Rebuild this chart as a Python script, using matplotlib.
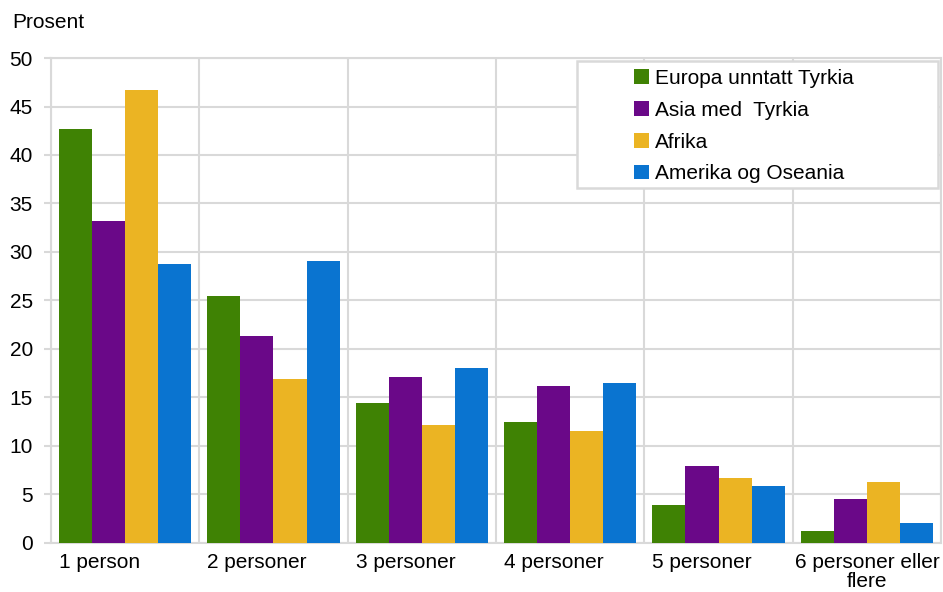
import numpy as np
import matplotlib.pyplot as plt
from matplotlib.patches import Rectangle

plt.rcParams['font.family'] = ['Liberation Sans', 'DejaVu Sans']

# Data
categories = ["1 person", "2 personer", "3 personer", "4 personer",
              "5 personer", "6 personer eller\nflere"]
series_names = ["Europa unntatt Tyrkia", "Asia med  Tyrkia", "Afrika",
                "Amerika og Oseania"]
europa = [42.7, 25.5, 14.4, 12.5, 3.9, 1.2]
asia = [33.2, 21.3, 17.1, 16.2, 7.9, 4.5]
afrika = [46.7, 16.9, 12.2, 11.5, 6.7, 6.3]
amerika = [28.8, 29.1, 18.0, 16.5, 5.9, 2.0]
colors = ["#3f8204", "#6a0888", "#ebb423", "#0a74d0"]

grid_col = "#d9d9d9"
fs = 15

fig = plt.figure(figsize=(9.43, 5.92), dpi=100)
ax = fig.add_axes([0.054, 0.083, 0.944, 0.819])

x = np.arange(len(categories))
w = 0.223
for i, (vals, name) in enumerate(zip([europa, asia, afrika, amerika], series_names)):
    ax.bar(x + (i - 1.5) * w, vals, width=w, color=colors[i], label=name, zorder=3)

ax.set_xlim(-0.5, len(categories) - 0.5)
ax.set_ylim(0, 50)
ax.set_yticks(np.arange(0, 51, 5))
ax.set_xticks([])
ax.set_xticks(np.arange(-0.5, len(categories)), minor=True)
ax.tick_params(axis='x', which='minor', length=0, labelbottom=False)
ax.tick_params(axis='y', labelsize=fs, length=5, color=grid_col, width=1.5, pad=8)
ax.grid(axis='y', color=grid_col, linewidth=1.5, zorder=0)
ax.grid(axis='x', which='minor', color=grid_col, linewidth=1.5, zorder=0)
for s in ax.spines.values():
    s.set_color(grid_col)
    s.set_linewidth(1.5)

# category labels: left-aligned at the group start, last one centred
for xi, lab in zip(x, categories):
    if xi == x[-1]:
        ax.text(xi, -1.0, lab, fontsize=fs, ha='center', va='top',
                multialignment='center', linespacing=1.05, clip_on=False)
    else:
        ax.text(xi - 2 * w, -1.0, lab, fontsize=fs, ha='left', va='top',
                multialignment='center', clip_on=False)

# legend box
ax.add_patch(Rectangle((0.591, 0.732), 0.405, 0.262, transform=ax.transAxes,
                       facecolor='white', edgecolor=grid_col, linewidth=1.8, zorder=4))
leg = ax.legend(loc='upper left', bbox_to_anchor=(0.655, 0.978), frameon=False,
                fontsize=fs, handlelength=0.7, handleheight=0.7,
                handletextpad=0.3, labelspacing=0.62, borderpad=0, borderaxespad=0)
leg.set_zorder(5)

fig.text(0.013, 0.962, "Prosent", fontsize=fs, va='center', ha='left')

fig.savefig("out.png", dpi=100)
